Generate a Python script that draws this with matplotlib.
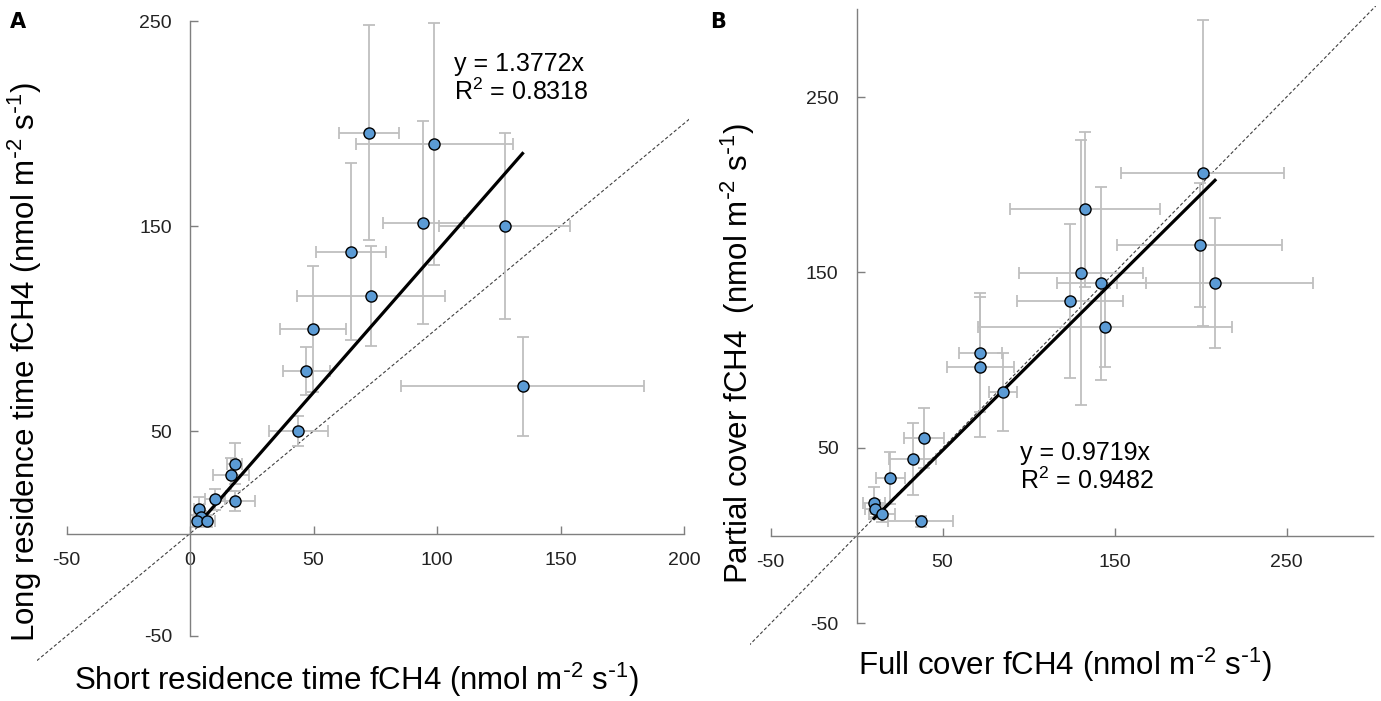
'''Paired flux comparison: residence time and chamber cover.'''

import matplotlib
matplotlib.use('Agg')
import matplotlib.pyplot as plt

# ---- panel A: short vs long residence time fCH4 ----
a_x = [72.5, 98.9, 94.5, 127.4, 65.2, 73.2, 49.9, 47.1, 134.6, 43.9,
       18.1, 16.5, 10.1, 18.1, 3.6, 4.3, 3.0, 6.8]
a_y = [195.5, 190.1, 151.6, 150.0, 137.5, 115.9, 99.8, 79.3, 71.8, 49.9,
       34.0, 28.7, 16.7, 15.9, 11.8, 8.2, 6.0, 6.0]
a_xerr = [12.0, 31.8, 16.5, 26.5, 14.2, 29.9, 13.4, 9.6, 49.3, 12.1,
          3.0, 7.2, 4.0, 8.2, 2.0, 2.0, 2.0, 3.4]
a_yerr = [52.5, 59.0, 49.6, 45.3, 43.2, 24.4, 30.8, 11.8, 24.2, 7.3,
          10.0, 8.0, 5.2, 5.0, 6.0, 3.0, 3.0, 3.0]
a_slope, a_r2 = 1.3772, 0.8318

# ---- panel B: full vs partial cover fCH4 ----
b_x = [201.3, 133.0, 199.5, 130.3, 142.3, 208.4, 124.3, 144.5, 72.0, 72.0,
       85.2, 39.1, 32.7, 19.5, 10.2, 10.8, 14.8, 37.3]
b_y = [206.7, 186.0, 165.7, 149.9, 143.8, 144.2, 133.8, 118.8, 104.3, 96.0,
       81.7, 55.7, 43.6, 33.1, 18.8, 15.4, 12.6, 8.2]
b_xerr = [47.5, 43.7, 48.0, 36.0, 25.8, 57.0, 30.8, 73.8, 12.6, 19.7,
          8.0, 11.8, 13.6, 8.4, 6.3, 6.0, 7.8, 18.9]
b_yerr = [87.0, 44.2, 35.4, 75.5, 55.0, 37.0, 44.0, 22.6, 34.0, 39.9,
          22.3, 16.9, 20.4, 14.8, 9.0, 5.0, 5.0, 3.0]
b_slope, b_r2 = 0.9719, 0.9482

a_xticks = [-50, 0, 50, 100, 150, 200]
a_yticks = [-50, 50, 150, 250]
b_xticks = [-50, 50, 150, 250]
b_yticks = [-50, 50, 150, 250]

UNITS = r'(nmol m$^{\text{-}2}$ s$^{\text{-}1}$)'
W, H = 1381, 701

plt.rcParams['font.family'] = ['Liberation Sans', 'DejaVu Sans']
plt.rcParams['mathtext.default'] = 'regular'
plt.rcParams['axes.unicode_minus'] = False


def px_axes(fig, left, top, right, bottom):
    '''Add axes from pixel box (left, top, right, bottom).'''
    return fig.add_axes([left / W, 1 - bottom / H, (right - left) / W, (bottom - top) / H])


def draw_panel(ax, x, y, xerr, yerr, slope, r2, lims, bounds, xticks, yticks,
               eq_pos, xlabel, ylabel, xlab_pos, ylab_pos):
    '''Scatter with error bars, 1:1 line and zero-intercept fit.'''
    (x0, x1), (y0, y1) = lims
    ax.set_xlim(x0, x1)
    ax.set_ylim(y0, y1)

    # 1:1 reference
    lo, hi = min(x0, y0), max(x1, y1)
    ax.plot([lo, hi], [lo, hi], color='#404040', lw=0.8, ls=(0, (3, 2)), zorder=1)

    # error bars + points
    ax.errorbar(x, y, xerr=xerr, yerr=yerr, fmt='none', ecolor='#bfbfbf',
                elinewidth=1.3, capsize=4, capthick=1.3, zorder=2)
    ax.plot(x, y, 'o', ms=8, mfc='#5b9bd5', mec='black', mew=1.0, zorder=4)

    # fitted line through origin over data range
    fx = [min(x), max(x)]
    ax.plot(fx, [slope * v for v in fx], color='black', lw=2.3, zorder=3)

    ax.text(*eq_pos, f'y = {slope:.4f}x\nR$^2$ = {r2:.4f}', transform=ax.transData,
            fontsize=18, va='top', ha='left', linespacing=1.12)

    # axes crossing at zero
    for side in ('top', 'right'):
        ax.spines[side].set_visible(False)
    ax.spines['left'].set_position(('data', 0))
    ax.spines['bottom'].set_position(('data', 0))
    ax.spines['bottom'].set_bounds(*bounds[0])
    ax.spines['left'].set_bounds(*bounds[1])
    for side in ('left', 'bottom'):
        ax.spines[side].set_color('#7f7f7f')
        ax.spines[side].set_linewidth(1.0)
    ax.set_xticks(xticks)
    ax.set_yticks(yticks)
    ax.tick_params(direction='in', length=6, width=1, color='#7f7f7f',
                   labelsize=14, labelcolor='#222222')
    ax.tick_params(axis='x', pad=13)
    ax.tick_params(axis='y', pad=13)
    ax.patch.set_visible(False)

    ax.set_xlabel(xlabel, fontsize=22.5, va='center')
    ax.set_ylabel(ylabel, fontsize=22.5, va='center')
    ax.xaxis.set_label_coords(xlab_pos[0] / W, 1 - xlab_pos[1] / H, transform=ax.figure.transFigure)
    ax.yaxis.set_label_coords(ylab_pos[0] / W, 1 - ylab_pos[1] / H, transform=ax.figure.transFigure)


fig = plt.figure(figsize=(W / 100, H / 100), dpi=100)

ax_a = px_axes(fig, 36.9, 16.9, 689.0, 660.6)
draw_panel(ax_a, a_x, a_y, a_xerr, a_yerr, a_slope, a_r2,
           lims=((-62, 202), (-62, 252)), bounds=((-50, 200), (-50, 250)),
           xticks=a_xticks, yticks=a_yticks, eq_pos=(107, 235),
           xlabel='Short residence time fCH4 ' + UNITS,
           ylabel='Long residence time fCH4 ' + UNITS,
           xlab_pos=(357, 680), ylab_pos=(25, 362))

ax_b = px_axes(fig, 749.9, 5.75, 1376.0, 649.8)
draw_panel(ax_b, b_x, b_y, b_xerr, b_yerr, b_slope, b_r2,
           lims=((-62, 302), (-65, 302)), bounds=((-50, 300), (-50, 300)),
           xticks=b_xticks, yticks=b_yticks, eq_pos=(95, 54),
           xlabel='Full cover fCH4 ' + UNITS,
           ylabel='Partial cover fCH4  ' + UNITS,
           xlab_pos=(1065, 665), ylab_pos=(738, 354))

# panel letters
for letter, xp in (('A', 18), ('B', 718)):
    fig.text(xp / W, 1 - 22 / H, letter, fontsize=15, fontweight='bold',
             family=['Liberation Sans Narrow', 'DejaVu Sans'], ha='center', va='center')

fig.savefig('out.png', dpi=100)
